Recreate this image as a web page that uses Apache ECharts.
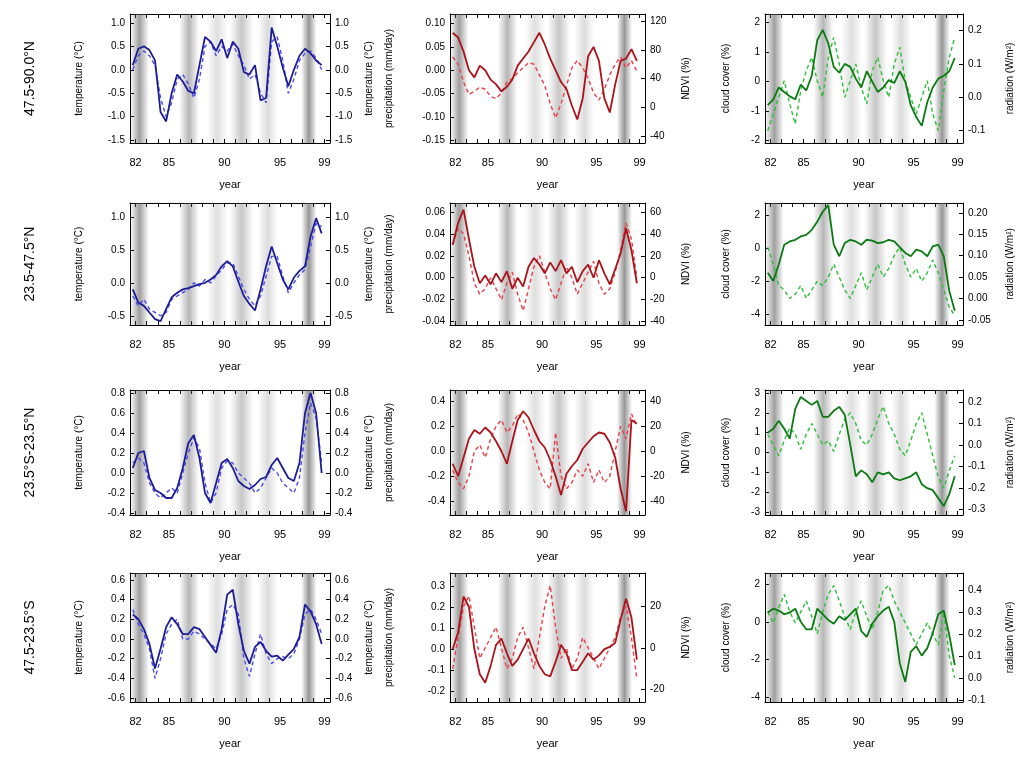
<!DOCTYPE html>
<html>
<head>
<meta charset="utf-8">
<script src="https://cdn.jsdelivr.net/npm/echarts@6/dist/echarts.min.js"></script>
<style>
html,body{margin:0;padding:0;background:#fff}
#chart{width:1019px;height:757px}
</style>
</head>
<body>
<div id="chart"></div>
<script>
// Half-year sample times (years since 1900)
const years = [
  81.75, 82.25, 82.75, 83.25, 83.75,
  84.25, 84.75, 85.25, 85.75, 86.25,
  86.75, 87.25, 87.75, 88.25, 88.75,
  89.25, 89.75, 90.25, 90.75, 91.25,
  91.75, 92.25, 92.75, 93.25, 93.75,
  94.25, 94.75, 95.25, 95.75, 96.25,
  96.75, 97.25, 97.75, 98.25, 98.75
];

const rowLabels = ['47.5-90.0°N', '23.5-47.5°N', '23.5°S-23.5°N', '47.5-23.5°S'];
const xTickYears = [82,83,84,85,86,87,88,89,90,91,92,93,94,95,96,97,98,99];
const xLabelYears = [82, 85, 90, 95, 99];
const leftNames = ['temperature (°C)', 'precipitation (mm/day)', 'cloud cover (%)'];
const rightNames = ['temperature (°C)', 'NDVI (%)', 'radiation (W/m²)'];

// shaded periods: start, end, strength
const bandStart = [81.5, 85.9, 88.4, 90.5, 93.0, 96.9];
const bandEnd   = [83.2, 87.7, 90.3, 92.6, 94.8, 98.3];
const bandShade = [0.6, 0.45, 0.2, 0.35, 0.22, 0.65];

// ---- temperature (column 1) ----
const tSolid1 = [
  0.10, 0.45, 0.50, 0.42, 0.20,
  -0.90, -1.10, -0.50, -0.10, -0.25,
  -0.45, -0.50, 0.10, 0.70, 0.60,
  0.40, 0.65, 0.25, 0.60, 0.45,
  -0.05, -0.10, 0.10, -0.65, -0.60,
  0.90, 0.50, 0.05, -0.35, 0.00,
  0.30, 0.45, 0.35, 0.20, 0.10];
const tDashed1 = [
  0.00, 0.30, 0.40, 0.30, 0.10,
  -0.60, -1.00, -0.70, -0.20, -0.10,
  -0.30, -0.60, -0.20, 0.50, 0.60,
  0.30, 0.50, 0.40, 0.55, 0.30,
  0.10, -0.20, -0.10, -0.50, -0.70,
  0.60, 0.70, 0.20, -0.50, -0.20,
  0.20, 0.35, 0.40, 0.25, 0.00];
const tSolid2 = [
  -0.10, -0.30, -0.35, -0.45, -0.55,
  -0.58, -0.40, -0.22, -0.15, -0.10,
  -0.08, -0.05, -0.02, 0.00, 0.05,
  0.12, 0.25, 0.33, 0.25, 0.02,
  -0.20, -0.32, -0.42, -0.10, 0.25,
  0.55, 0.30, 0.05, -0.10, 0.08,
  0.18, 0.25, 0.70, 0.98, 0.75];
const tDashed2 = [
  -0.20, -0.35, -0.25, -0.40, -0.45,
  -0.50, -0.45, -0.25, -0.20, -0.15,
  -0.10, 0.00, -0.05, 0.05, 0.00,
  0.10, 0.20, 0.30, 0.30, 0.10,
  -0.10, -0.25, -0.35, -0.20, 0.10,
  0.40, 0.40, 0.10, -0.15, 0.00,
  0.12, 0.20, 0.55, 0.90, 0.85];
const tSolid3 = [
  0.05, 0.20, 0.22, -0.05, -0.17,
  -0.20, -0.25, -0.25, -0.15, 0.05,
  0.30, 0.38, 0.15, -0.20, -0.30,
  -0.10, 0.10, 0.14, 0.05, -0.08,
  -0.13, -0.16, -0.12, -0.06, -0.04,
  0.08, 0.15, 0.05, -0.05, -0.08,
  0.10, 0.60, 0.80, 0.60, 0.00];
const tDashed3 = [
  0.10, 0.15, 0.10, -0.10, -0.20,
  -0.25, -0.20, -0.15, -0.20, 0.00,
  0.20, 0.35, 0.25, -0.10, -0.30,
  -0.20, 0.05, 0.12, 0.10, 0.00,
  -0.05, -0.10, -0.20, -0.15, -0.05,
  0.05, 0.00, -0.10, -0.15, -0.20,
  -0.05, 0.40, 0.70, 0.55, 0.10];
const tSolid4 = [
  0.25, 0.20, 0.10, -0.05, -0.30,
  -0.10, 0.12, 0.22, 0.15, 0.05,
  0.05, 0.12, 0.10, 0.02, -0.06,
  -0.14, 0.10, 0.45, 0.50, 0.15,
  -0.12, -0.25, -0.08, -0.03, -0.12,
  -0.18, -0.17, -0.22, -0.16, -0.10,
  0.02, 0.35, 0.28, 0.15, -0.05];
const tDashed4 = [
  0.30, 0.15, 0.05, -0.10, -0.40,
  -0.20, 0.05, 0.15, 0.20, 0.00,
  0.00, 0.08, 0.05, 0.00, -0.05,
  -0.10, 0.05, 0.30, 0.35, 0.25,
  -0.20, -0.38, -0.15, 0.05, -0.15,
  -0.25, -0.20, -0.18, -0.20, -0.15,
  0.00, 0.25, 0.30, 0.20, 0.05];

// ---- precipitation (column 2) ----
const pSolid1 = [
  0.080, 0.070, 0.040, 0.000, -0.015,
  0.010, 0.000, -0.020, -0.030, -0.045,
  -0.035, -0.020, 0.010, 0.025, 0.040,
  0.060, 0.080, 0.055, 0.025, 0.000,
  -0.025, -0.040, -0.075, -0.105, -0.060,
  0.030, 0.050, 0.020, -0.060, -0.090,
  -0.030, 0.020, 0.025, 0.045, 0.020];
const pDashed1 = [
  70, 60, 35, 18, 22,
  28, 25, 15, 12, 20,
  35, 40, 48, 55, 62,
  60, 45, 30, 5, -15,
  5, 30, 55, 65, 55,
  40, 20, 10, 25, 45,
  60, 70, 55, 65, 50];
const pSolid2 = [
  0.030, 0.050, 0.062, 0.035, 0.010,
  -0.005, 0.002, -0.006, 0.004, -0.004,
  0.006, -0.010, 0.000, -0.008, 0.010,
  0.018, 0.012, 0.004, 0.014, 0.006,
  0.016, 0.004, 0.010, -0.004, 0.006,
  0.012, 0.000, 0.016, 0.004, -0.006,
  0.008, 0.022, 0.045, 0.025, -0.005];
const pDashed2 = [
  30, 45, 40, 20, -5,
  -15, -10, 0, -10, -20,
  -5, 5, -15, -30, -10,
  10, 20, 5, -10, -20,
  -5, 10, 0, -15, -5,
  5, 15, -5, -15, -10,
  5, 25, 50, 35, 0];
const pSolid3 = [
  -0.10, -0.20, -0.05, 0.10, 0.17,
  0.14, 0.19, 0.15, 0.08, 0.00,
  -0.10, 0.08, 0.25, 0.32, 0.27,
  0.17, 0.08, 0.03, -0.07, -0.20,
  -0.35, -0.18, -0.12, -0.07, 0.02,
  0.07, 0.12, 0.15, 0.14, 0.07,
  -0.05, -0.30, -0.48, 0.25, 0.22];
const pDashed3 = [
  -15, -25, -30, -20, 0,
  5, -5, 10, 20, 25,
  15, 20, 30, 25, 15,
  0, -15, -25, -30, 15,
  -20, -30, -25, -15, -20,
  -10, -25, -15, -25, -20,
  0, 20, 10, 30, 20];
const pSolid4 = [
  0.00, 0.08, 0.25, 0.20, 0.00,
  -0.12, -0.16, -0.08, 0.02, 0.05,
  -0.02, -0.08, -0.05, 0.00, 0.05,
  -0.02, -0.08, -0.12, -0.13, -0.06,
  0.02, -0.02, -0.10, -0.10, -0.06,
  -0.02, -0.05, -0.03, 0.00, 0.01,
  0.03, 0.14, 0.24, 0.15, -0.05];
const pDashed4 = [
  -10, 5, 20, 25, 10,
  -5, 0, 5, 10, 0,
  -10, -5, 5, 10, 0,
  -10, 5, 20, 30, 10,
  -5, 0, -10, -5, 5,
  0, -5, -10, -5, 0,
  5, 15, 20, 5, -15];

// ---- cloud cover / radiation (column 3) ----
const cSolid1 = [
  -0.80, -0.60, -0.20, -0.35, -0.50,
  -0.60, -0.10, -0.30, 0.20, 1.40,
  1.75, 1.30, 0.50, 0.30, 0.60,
  0.50, 0.10, -0.20, 0.35, 0.00,
  -0.35, -0.20, 0.05, -0.05, 0.35,
  0.00, -0.80, -1.20, -1.50, -0.70,
  -0.20, 0.10, 0.20, 0.35, 0.80];
const cDashed1 = [
  -0.10, -0.05, 0.00, 0.05, -0.02,
  -0.08, 0.02, 0.08, 0.12, 0.05,
  0.00, 0.12, 0.18, 0.10, 0.00,
  0.05, 0.10, 0.03, -0.02, 0.08,
  0.12, 0.05, 0.00, 0.10, 0.15,
  0.05, 0.00, -0.05, 0.00, 0.05,
  -0.05, -0.10, 0.02, 0.12, 0.18];
const cSolid2 = [
  -1.50, -2.00, -1.00, 0.20, 0.40,
  0.50, 0.70, 0.80, 1.10, 1.60,
  2.20, 2.60, 0.20, -0.50, 0.30,
  0.50, 0.40, 0.20, 0.50, 0.45,
  0.30, 0.35, 0.50, 0.40, 0.05,
  -0.30, -0.50, -0.10, -0.20, -0.50,
  0.10, 0.20, -0.50, -2.60, -3.80];
const cDashed2 = [
  0.12, 0.08, 0.03, 0.02, 0.00,
  0.01, 0.03, 0.00, 0.02, 0.04,
  0.03, 0.05, 0.08, 0.05, 0.02,
  0.00, 0.03, 0.06, 0.02, 0.05,
  0.08, 0.05, 0.07, 0.10, 0.12,
  0.08, 0.05, 0.07, 0.04, 0.06,
  0.09, 0.06, 0.02, -0.02, -0.04];
const cSolid3 = [
  1.00, 1.20, 1.60, 1.20, 0.70,
  2.20, 2.80, 2.60, 2.40, 2.60,
  1.80, 1.80, 2.10, 2.30, 1.90,
  0.40, -1.20, -0.90, -1.10, -1.50,
  -1.00, -1.10, -1.00, -1.30, -1.40,
  -1.30, -1.20, -1.00, -1.60, -1.80,
  -1.90, -2.30, -2.70, -2.10, -1.20];
const cDashed3 = [
  0.05, 0.00, -0.05, 0.02, 0.08,
  0.05, -0.02, 0.05, 0.10, 0.05,
  0.00, 0.02, -0.03, 0.05, 0.12,
  0.15, 0.10, 0.02, 0.00, 0.05,
  0.12, 0.18, 0.10, 0.05, -0.02,
  -0.05, 0.02, 0.10, 0.15, 0.05,
  -0.05, -0.15, -0.20, -0.12, -0.05];
const cSolid4 = [
  0.50, 0.70, 0.60, 0.40, 0.50,
  0.70, 0.00, -0.40, -0.40, 0.70,
  0.40, 0.10, -0.10, 0.30, 0.10,
  0.40, 0.70, -0.50, -0.80, -0.10,
  0.30, 0.60, 0.80, 0.00, -2.20,
  -3.20, -1.60, -1.30, -1.80, -1.40,
  -0.60, 0.40, 0.60, -0.70, -2.30];
const cDashed4 = [
  0.30, 0.25, 0.32, 0.38, 0.30,
  0.25, 0.30, 0.35, 0.28, 0.20,
  0.30, 0.38, 0.42, 0.35, 0.28,
  0.22, 0.30, 0.35, 0.28, 0.22,
  0.30, 0.40, 0.42, 0.35, 0.30,
  0.25, 0.20, 0.15, 0.20, 0.25,
  0.20, 0.15, 0.30, 0.10, 0.00];

// tick values per panel [row][col]
const leftTicks = [
  [[-1.5,-1,-0.5,0,0.5,1], [-0.15,-0.1,-0.05,0,0.05,0.1], [-2,-1,0,1,2]],
  [[-0.5,0,0.5,1], [-0.04,-0.02,0,0.02,0.04,0.06], [-4,-2,0,2]],
  [[-0.4,-0.2,0,0.2,0.4,0.6,0.8], [-0.4,-0.2,0,0.2,0.4], [-3,-2,-1,0,1,2,3]],
  [[-0.6,-0.4,-0.2,0,0.2,0.4,0.6], [-0.2,-0.1,0,0.1,0.2,0.3], [-4,-2,0,2]]
];
const rightTicks = [
  [[-1.5,-1,-0.5,0,0.5,1], [-40,0,40,80,120], [-0.1,0,0.1,0.2]],
  [[-0.5,0,0.5,1], [-40,-20,0,20,40,60], [-0.05,0,0.05,0.1,0.15,0.2]],
  [[-0.4,-0.2,0,0.2,0.4,0.6,0.8], [-40,-20,0,20,40], [-0.3,-0.2,-0.1,0,0.1,0.2]],
  [[-0.6,-0.4,-0.2,0,0.2,0.4,0.6], [-20,0,20], [-0.1,0,0.1,0.2,0.3,0.4]]
];

const solids = [[tSolid1,pSolid1,cSolid1],[tSolid2,pSolid2,cSolid2],[tSolid3,pSolid3,cSolid3],[tSolid4,pSolid4,cSolid4]];
const dashes = [[tDashed1,pDashed1,cDashed1],[tDashed2,pDashed2,cDashed2],[tDashed3,pDashed3,cDashed3],[tDashed4,pDashed4,cDashed4]];

// ---- layout ----
const colLeft = [130, 450, 765];
const colWidth = [200, 195, 198];
const rowTop = [14, 203, 390, 573];
const rowHeight = [129, 122, 125, 129];

const leftRange = [
  [[-1.56,1.19],[-0.155,0.12],[-2.08,2.29]],
  [[-0.64,1.21],[-0.043,0.068],[-4.67,2.73]],
  [[-0.42,0.83],[-0.51,0.49],[-3.15,3.15]],
  [[-0.64,0.67],[-0.252,0.362],[-4.27,2.6]]
];
const rightRange = [
  [[-1.56,1.19],[-50,130],[-0.137,0.25]],
  [[-0.64,1.21],[-43,68],[-0.062,0.223]],
  [[-0.42,0.83],[-51,49],[-0.326,0.256]],
  [[-0.64,0.67],[-26,36],[-0.11,0.477]]
];
const leftDec = [[1,2,0],[1,2,0],[1,1,0],[1,1,0]];
const rightDec = [[1,0,1],[1,0,2],[1,0,1],[1,0,1]];

const solidColor = ['#1d1d96', '#a8141a', '#0b7a12'];
const dashColor  = ['#4a4ae6', '#e8404a', '#2fbf3a'];
const nameGapL = [46, 56, 34];
const nameGapR = [34, 36, 42];

const FONT = 'Liberation Sans, Arial, sans-serif';

function band(a) {
  return new echarts.graphic.LinearGradient(0, 0, 1, 0, [
    {offset: 0, color: 'rgba(95,95,95,0)'},
    {offset: 0.5, color: 'rgba(95,95,95,' + a + ')'},
    {offset: 1, color: 'rgba(95,95,95,0)'}
  ]);
}
function pairs(vals) { return years.map((y, i) => [y, vals[i]]); }

const grid = [], xAxis = [], yAxis = [], series = [];
let g = 0;
for (let r = 0; r < 4; r++) {
  for (let c = 0; c < 3; c++) {
    grid.push({left: colLeft[c], top: rowTop[r], width: colWidth[c], height: rowHeight[r], containLabel: false});
    const axisLine = {show: true, onZero: false, lineStyle: {color: '#000', width: 1}};
    xAxis.push({
      type: 'value', gridIndex: g, min: 81.5, max: 99.5, position: 'bottom',
      axisLine: axisLine, splitLine: {show: false},
      axisTick: {inside: true, length: 4, customValues: xTickYears, lineStyle: {color: '#000'}},
      axisLabel: {customValues: xLabelYears, formatter: v => String(v), fontSize: 11, color: '#000', fontFamily: FONT, margin: 14},
      name: 'year', nameLocation: 'middle', nameGap: 36,
      nameTextStyle: {fontSize: 11, color: '#000', fontFamily: FONT}
    });
    xAxis.push({
      type: 'value', gridIndex: g, min: 81.5, max: 99.5, position: 'top',
      axisLine: axisLine, splitLine: {show: false},
      axisTick: {inside: true, length: 4, customValues: xTickYears, lineStyle: {color: '#000'}},
      axisLabel: {show: false}
    });
    const ld = leftDec[r][c], rd = rightDec[r][c];
    yAxis.push({
      type: 'value', gridIndex: g, position: 'left',
      min: leftRange[r][c][0], max: leftRange[r][c][1],
      axisLine: axisLine, splitLine: {show: false},
      axisTick: {inside: true, length: 4, customValues: leftTicks[r][c], lineStyle: {color: '#000'}},
      axisLabel: {customValues: leftTicks[r][c], formatter: v => v.toFixed(ld), fontSize: 10, color: '#000', fontFamily: FONT, margin: 5},
      name: leftNames[c], nameLocation: 'middle', nameGap: nameGapL[c], nameRotate: 90,
      nameTextStyle: {fontSize: 10, color: '#000', fontFamily: FONT}
    });
    yAxis.push({
      type: 'value', gridIndex: g, position: 'right',
      min: rightRange[r][c][0], max: rightRange[r][c][1],
      axisLine: axisLine, splitLine: {show: false},
      axisTick: {inside: true, length: 4, customValues: rightTicks[r][c], lineStyle: {color: '#000'}},
      axisLabel: {customValues: rightTicks[r][c], formatter: v => v.toFixed(rd), fontSize: 10, color: '#000', fontFamily: FONT, margin: 5},
      name: rightNames[c], nameLocation: 'middle', nameGap: nameGapR[c], nameRotate: 90,
      nameTextStyle: {fontSize: 10, color: '#000', fontFamily: FONT}
    });
    series.push({
      type: 'line', xAxisIndex: 2 * g, yAxisIndex: 2 * g, data: pairs(solids[r][c]),
      showSymbol: false, symbol: 'none', z: 3,
      lineStyle: {color: solidColor[c], width: 1.8},
      markArea: {
        silent: true, z: 1,
        data: bandStart.map((s, i) => [
          {xAxis: s, itemStyle: {color: band(bandShade[i])}},
          {xAxis: bandEnd[i]}
        ])
      }
    });
    series.push({
      type: 'line', xAxisIndex: 2 * g, yAxisIndex: 2 * g + 1, data: pairs(dashes[r][c]),
      showSymbol: false, symbol: 'none', z: 2,
      lineStyle: {color: dashColor[c], width: 1.4, type: [4, 3]}
    });
    g++;
  }
}

const graphic = rowLabels.map((t, r) => ({
  type: 'text', x: 30, y: rowTop[r] + rowHeight[r] / 2, rotation: Math.PI / 2,
  style: {text: t, fontSize: 14, fill: '#000', fontFamily: FONT, align: 'center', verticalAlign: 'middle'}
}));

const chart = echarts.init(document.getElementById('chart'));
chart.setOption({
  backgroundColor: '#fff',
  animation: false,
  grid, xAxis, yAxis, series, graphic
});
</script>
</body>
</html>
